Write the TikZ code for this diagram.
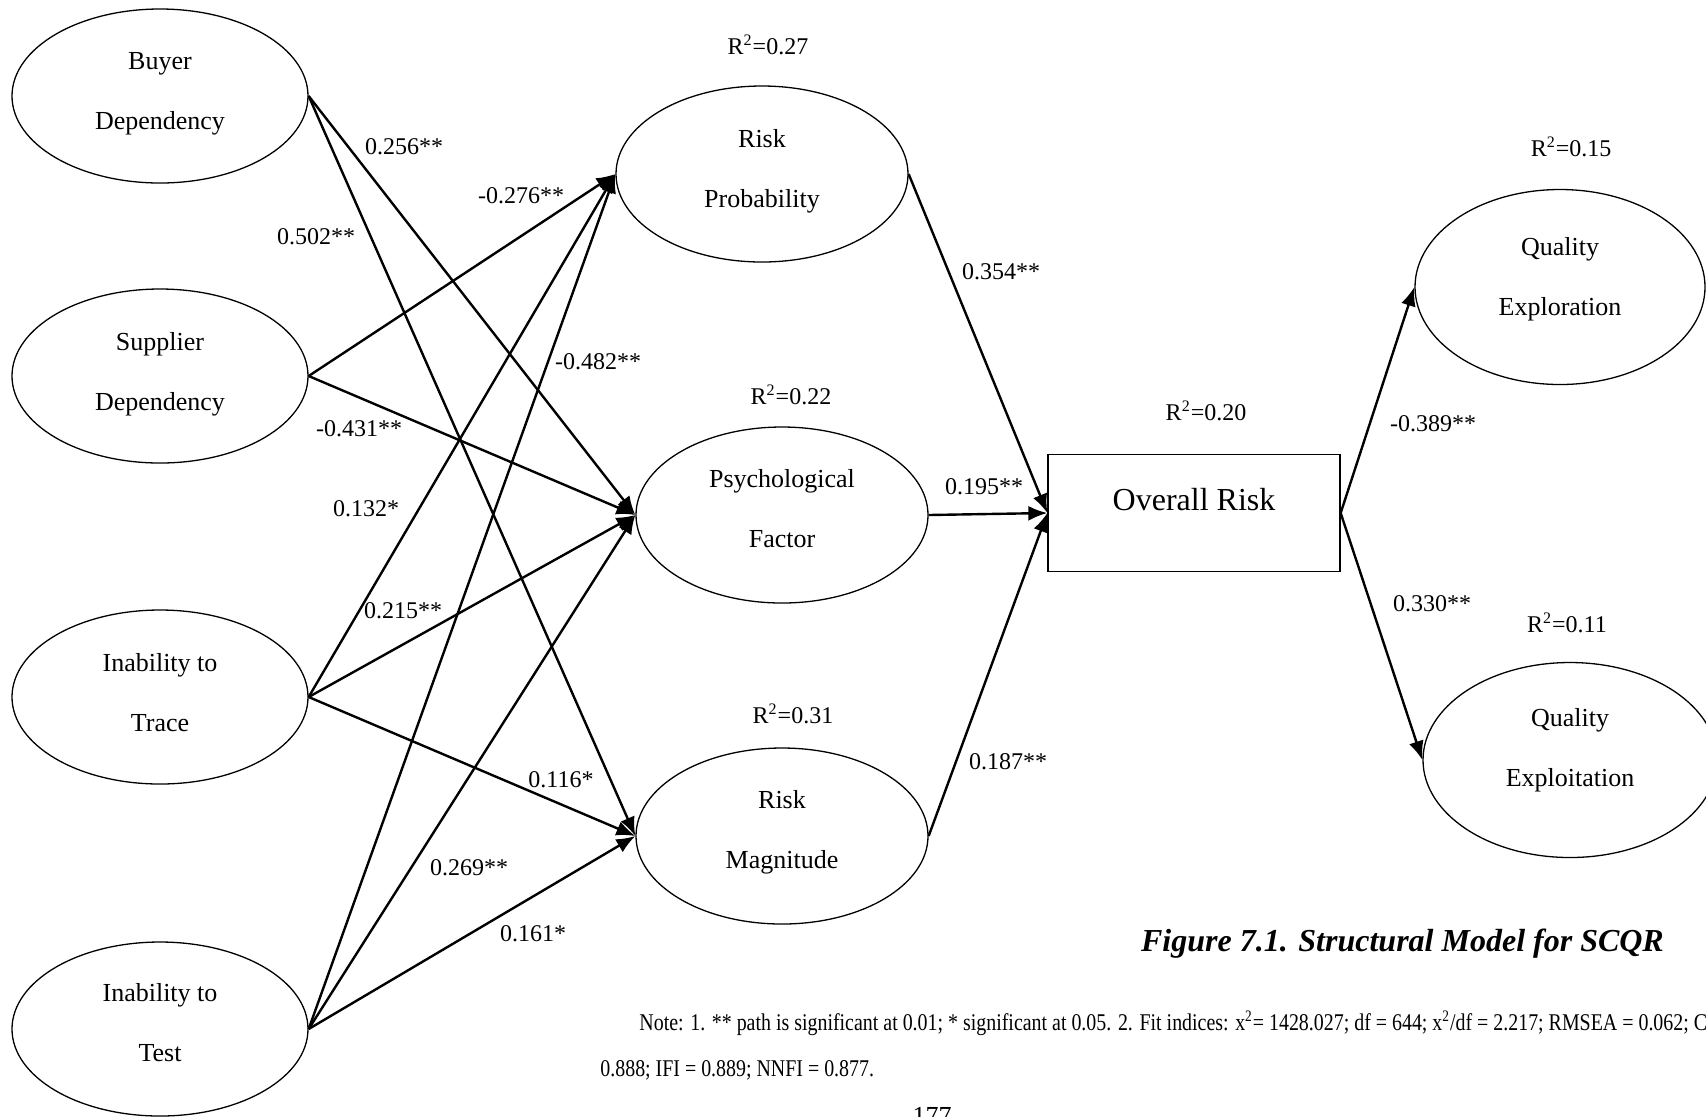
\documentclass[tikz,border=0pt]{standalone}
\usepackage{fontspec}
\setmainfont{Liberation Serif}
\newfontfamily\notefont[FakeStretch=0.83]{Liberation Serif}
\usetikzlibrary{shapes.geometric,arrows.meta}
\tikzstyle{myoval}=[ellipse,draw,line width=0.65pt,align=center,inner sep=0pt,text depth=6pt,font=\fontsize{13}{30}\selectfont]
\tikzstyle{mybox}=[rectangle,draw,line width=0.65pt,minimum width=146pt,minimum height=58.5pt]
\tikzstyle{myarrow}=[line width=1.2pt,-{Latex[length=9.5pt,width=7.5pt]}]
\tikzstyle{mylabel}=[inner sep=0pt,font=\fontsize{12}{14}\selectfont]

\begin{document}
\begin{tikzpicture}[x=0.5pt,y=-0.5pt]
		\useasboundingbox (0,0) rectangle (1706,1116);
		\clip (0,0) rectangle (1706,1116);

		% exogenous constructs
		\node[myoval,minimum width=148pt,minimum height=87pt,text depth=5pt] (buyer) at (160,96) {Buyer\\Dependency};
		\node[myoval,minimum width=148pt,minimum height=87pt,text depth=4.5pt] (supplier) at (160,376) {Supplier\\Dependency};
		\node[myoval,minimum width=148pt,minimum height=87pt,text depth=5pt] (trace) at (160,697) {Inability to\\Trace};
		\node[myoval,minimum width=148pt,minimum height=87pt,text depth=7pt] (test) at (160,1029) {Inability to\\Test};

		% mediators
		\node[myoval,minimum width=146pt,minimum height=88pt] (prob) at (762,174) {Risk\\Probability};
		\node[myoval,minimum width=146pt,minimum height=88pt,text depth=7pt] (psych) at (782,515) {Psychological\\Factor};
		\node[myoval,minimum width=146pt,minimum height=88pt,text depth=7pt] (magn) at (782,836) {Risk\\Magnitude};

		\node[mybox] (overall) at (1194,513) {};
		\node[font=\fontsize{16}{19}\selectfont] (overalltext) at (1194,500) {Overall Risk};

		% outcomes
		\node[myoval,minimum width=145pt,minimum height=97.5pt,text depth=11pt] (explore) at (1560,287) {Quality\\Exploration};
		\node[myoval,minimum width=147pt,minimum height=97.5pt,text depth=13pt] (exploit) at (1570,760) {Quality\\Exploitation};

		\foreach \a / \b in {buyer/psych,buyer/magn,supplier/prob,supplier/psych,trace/prob,trace/psych,trace/magn,test/prob,test/psych,test/magn,prob/overall,psych/overall,magn/overall,overall/explore,overall/exploit} { \draw[myarrow] (\a.east) -- (\b.west);}

		% path coefficients
		\foreach \x / \y / \t [count=\i] in {404/147/0.256**,316/237/0.502**,521/196/-0.276**,598/362/-0.482**,359/429/-0.431**,366/509/0.132*,403/611/0.215**,561/780/0.116*,469/868/0.269**,533/934/0.161*,1001/272/0.354**,984/487/0.195**,1008/762/0.187**,1433/424/-0.389**,1432/604/0.330**} {\node[mylabel] (coef\i) at (\x,\y) {\t};}

		% explained variance
		\foreach \x / \y / \t [count=\i] in {768/45/0.27,791/395/0.22,793/714/0.31,1206/411/0.20,1571/147/0.15,1567/623/0.11} {\node[mylabel] (rsq\i) at (\x,\y) {R\textsuperscript{2}=\t};}

		\node[anchor=west,font=\fontsize{16}{19}\selectfont\bfseries\itshape] (caption) at (1134,944) {Figure 7.1. Structural Model for SCQR};

		\node[anchor=west,inner sep=0pt,font=\notefont\fontsize{12}{14}\selectfont] (note1) at (639,1023) {Note: 1. ** path is significant at 0.01; * significant at 0.05. 2. Fit indices: x\textsuperscript{2}= 1428.027; df = 644; x\textsuperscript{2}/df = 2.217; RMSEA = 0.062; C};
		\node[anchor=west,inner sep=0pt,font=\notefont\fontsize{12}{14}\selectfont] (note2) at (600,1070) {0.888; IFI = 0.889; NNFI = 0.877.};

		\node[anchor=base,font=\fontsize{13}{15}\selectfont] (pagenum) at (932,1124) {177};
	\end{tikzpicture}
\end{document}
